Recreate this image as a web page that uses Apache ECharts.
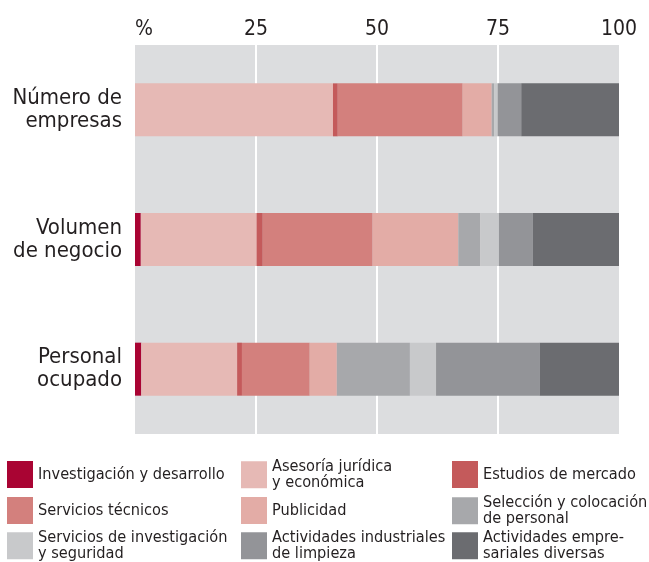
<!DOCTYPE html>
<html>
<head>
<meta charset="utf-8">
<script src="https://cdn.jsdelivr.net/npm/echarts@6.0.0/dist/echarts.min.js"></script>
<style>
  html, body { margin: 0; padding: 0; background: #fff; }
  #chart { width: 649px; height: 562px; }
</style>
</head>
<body>
<div id="chart"></div>
<script>
// ===== datos =====
const categories = ['Número de\nempresas', 'Volumen\nde negocio', 'Personal\nocupado'];
const axisTicks = ['%', '25', '50', '75', '100'];

const seriesNames = [
  'Investigación y desarrollo',
  'Asesoría jurídica\ny económica',
  'Estudios de mercado',
  'Servicios técnicos',
  'Publicidad',
  'Selección y colocación\nde personal',
  'Servicios de investigación\ny seguridad',
  'Actividades industriales\nde limpieza',
  'Actividades empre-\nsariales diversas'
];

// porcentaje por categoría: [Número de empresas, Volumen de negocio, Personal ocupado]
const investigacion = [0, 1.2, 1.3];
const asesoria = [40.9, 23.9, 19.8];
const estudios = [1.0, 1.3, 1.0];
const tecnicos = [25.8, 22.7, 14.0];
const publicidad = [6.0, 17.7, 5.6];
const seleccion = [0.5, 4.5, 15.1];
const seguridad = [0.7, 3.9, 5.4];
const limpieza = [4.9, 7.0, 21.4];
const diversas = [20.2, 17.8, 16.4];

const seriesValues = [investigacion, asesoria, estudios, tecnicos, publicidad,
  seleccion, seguridad, limpieza, diversas];

const colors = ['#a90433', '#e6b9b5', '#c45a5b', '#d3807d', '#e3aca6',
  '#a7a8ab', '#c8c9cb', '#939498', '#6b6c70'];

const font = "'Liberation Sans Narrow', 'DejaVu Sans Condensed', 'Roboto Condensed', sans-serif";
const textColor = '#231f20';

// ===== gráfico =====
const chart = echarts.init(document.getElementById('chart'));

// una leyenda por elemento, en rejilla 3x3
// (los textos de dos líneas son más altos que el cuadro, se suben un poco)
const legendLefts = [7, 241, 452];
const legendTops = [461, 497, 532];
const legends = seriesNames.map((name, i) => ({
  data: [name],
  left: legendLefts[i % 3],
  top: legendTops[Math.floor(i / 3)] - (name.includes('\n') ? 2 : 0),
  itemWidth: 26,
  itemHeight: 27,
  padding: 0,
  icon: 'rect',
  selectedMode: false,
  textStyle: { fontFamily: font, fontSize: 16.2, color: textColor, lineHeight: 15.5 }
}));

chart.setOption({
  animation: false,
  textStyle: { fontFamily: font },
  grid: {
    left: 135, right: 30, top: 45, bottom: 128,
    show: true, backgroundColor: '#dcdddf', borderWidth: 0
  },
  legend: legends,
  xAxis: {
    type: 'value',
    position: 'top',
    min: 0, max: 100, interval: 25,
    axisLine: { show: false },
    axisTick: { show: false },
    axisLabel: {
      margin: 5,
      fontSize: 21,
      color: textColor,
      fontFamily: font,
      formatter: (v) => v === 0 ? '{p|' + axisTicks[0] + '}' : axisTicks[v / 25],
      rich: { p: { fontSize: 21, color: textColor, fontFamily: font, padding: [0, 0, 0, 18] } }
    },
    splitLine: { show: true, showMinLine: false, showMaxLine: false, lineStyle: { color: '#ffffff', width: 2 } }
  },
  yAxis: {
    type: 'category',
    inverse: true,
    data: categories,
    axisLine: { show: false },
    axisTick: { show: false },
    axisLabel: { margin: 13, fontSize: 22, lineHeight: 23, color: textColor, fontFamily: font, align: 'right' }
  },
  series: seriesNames.map((name, i) => ({
    name: name,
    type: 'bar',
    stack: 'total',
    barWidth: 53,
    itemStyle: { color: colors[i] },
    data: seriesValues[i]
  }))
});
</script>
</body>
</html>
